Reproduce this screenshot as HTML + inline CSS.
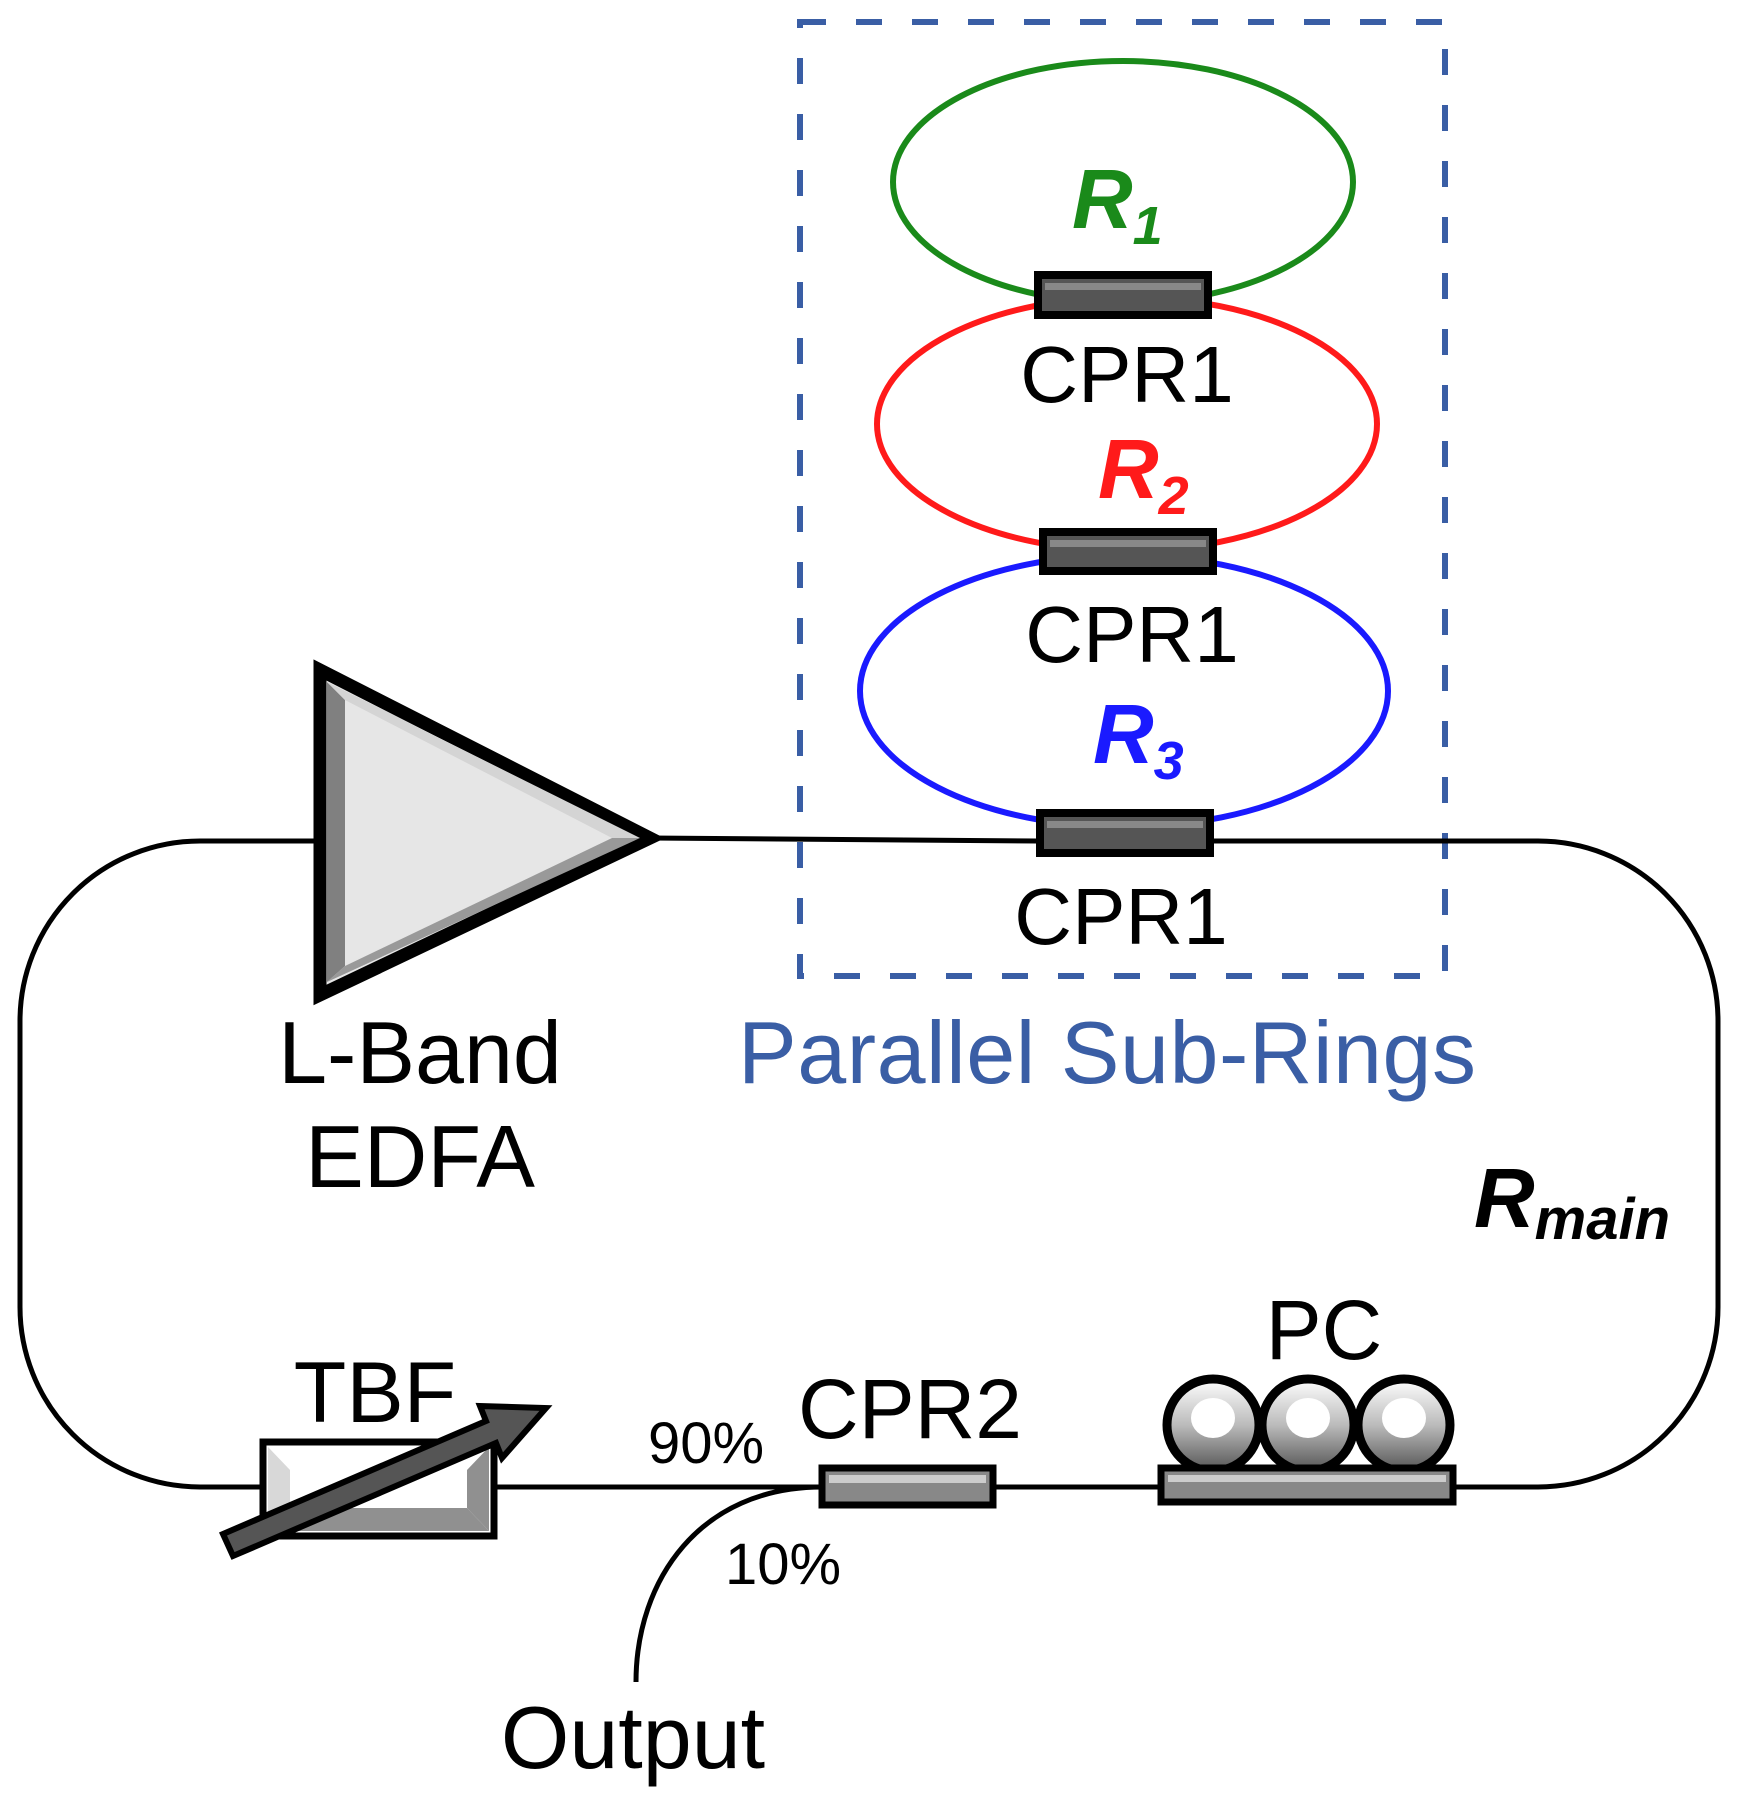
<!DOCTYPE html>
<html><head><meta charset="utf-8"><style>html,body{margin:0;padding:0;background:#fff}svg{display:block}</style></head>
<body>
<svg width="1740" height="1809" viewBox="0 0 1740 1809" xmlns="http://www.w3.org/2000/svg" font-family="Liberation Sans, Arial, sans-serif">
<defs>
<linearGradient id="ball" x1="0" y1="0" x2="0" y2="1"><stop offset="0" stop-color="#fff"/><stop offset="0.5" stop-color="#bbb"/><stop offset="1" stop-color="#555"/></linearGradient>
</defs>
<rect x="800" y="22" width="645" height="954" fill="none" stroke="#3a5ea5" stroke-width="6" stroke-dasharray="26 30"/>
<path d="M320,841 L200,841 A180,180 0 0 0 20,1021 L20,1307 A180,180 0 0 0 200,1487 L1538,1487 A180,180 0 0 0 1718,1307 L1718,1021 A180,180 0 0 0 1538,841 L1210,841 M650,838 L1037,841" fill="none" stroke="#000" stroke-width="5"/>
<ellipse cx="1123" cy="182" rx="230" ry="121" fill="none" stroke="#1a8a1a" stroke-width="6"/>
<ellipse cx="1127" cy="424" rx="250" ry="127" fill="none" stroke="#ff1a1a" stroke-width="6"/>
<ellipse cx="1124" cy="691" rx="264" ry="136" fill="none" stroke="#1a1aff" stroke-width="6"/>
<g stroke="#000" stroke-width="8">
<rect x="1038" y="275" width="170" height="40" fill="#555"/>
<rect x="1043" y="532" width="170" height="39" fill="#555"/>
<rect x="1040" y="813" width="170" height="40" fill="#555"/>
</g>
<g fill="#888"><rect x="1045" y="283" width="156" height="7"/><rect x="1050" y="540" width="156" height="7"/><rect x="1047" y="821" width="156" height="7"/></g>
<g font-size="80" text-anchor="middle" fill="#000">
<text x="1127" y="402">CPR1</text>
<text x="1132" y="662">CPR1</text>
<text x="1121" y="944">CPR1</text>
</g>
<g font-size="84" font-weight="bold" font-style="italic">
<text x="1072" y="228" fill="#1a8a1a">R<tspan font-size="54" dy="16">1</tspan></text>
<text x="1098" y="498" fill="#ff1a1a">R<tspan font-size="54" dy="16">2</tspan></text>
<text x="1093" y="763" fill="#1a1aff">R<tspan font-size="54" dy="16">3</tspan></text>
<text x="1474" y="1227" fill="#000">R<tspan font-size="58" dy="12">main</tspan></text>
</g>
<polygon points="320,670 320,995 650,838" fill="#e6e6e6" stroke="#000" stroke-width="13" stroke-linejoin="miter"/>
<polygon points="327,682 345,700 345,966 327,982" fill="#808080"/>
<polygon points="345,966 612,838 640,838 327,982" fill="#999"/>
<polygon points="345,700 612,838 640,838 327,682" fill="#d4d4d4"/>
<text x="420" y="1083" font-size="88" text-anchor="middle">L-Band</text>
<text x="420" y="1187" font-size="88" text-anchor="middle">EDFA</text>
<text x="1107" y="1083" font-size="88" text-anchor="middle" fill="#3a5ea5" textLength="738">Parallel Sub-Rings</text>
<rect x="263" y="1442" width="231" height="94" fill="#fff" stroke="#000" stroke-width="7"/>
<polygon points="268,1447 290,1470 290,1508 268,1531" fill="#d8d8d8"/>
<polygon points="268,1531 290,1508 467,1508 489,1531" fill="#909090"/>
<polygon points="489,1447 467,1470 467,1508 489,1531" fill="#909090"/>
<polygon points="223,1534 486,1421 480,1406 546,1408 502,1458 496,1443 233,1556" fill="#555" stroke="#000" stroke-width="6" stroke-linejoin="miter"/>
<text x="375" y="1422" font-size="86" text-anchor="middle">TBF</text>
<path d="M822,1487 C700,1487 636,1580 636,1682" fill="none" stroke="#000" stroke-width="5"/>
<rect x="822" y="1468" width="171" height="37" fill="#888" stroke="#000" stroke-width="7"/>
<rect x="829" y="1475" width="157" height="8" fill="#ccc"/>
<text x="910" y="1438" font-size="84" text-anchor="middle">CPR2</text>
<text x="706" y="1463" font-size="58" text-anchor="middle">90%</text>
<text x="783" y="1584" font-size="58" text-anchor="middle">10%</text>
<text x="633" y="1768" font-size="88" text-anchor="middle">Output</text>
<g stroke="#000" stroke-width="9">
<circle cx="1213" cy="1425" r="46" fill="url(#ball)"/>
<circle cx="1308" cy="1425" r="46" fill="url(#ball)"/>
<circle cx="1404" cy="1425" r="46" fill="url(#ball)"/>
</g>
<g fill="#fff"><ellipse cx="1213" cy="1418" rx="22" ry="20"/><ellipse cx="1308" cy="1418" rx="22" ry="20"/><ellipse cx="1404" cy="1418" rx="22" ry="20"/></g>
<rect x="1161" y="1468" width="292" height="34" fill="#888" stroke="#000" stroke-width="7"/>
<rect x="1168" y="1475" width="278" height="7" fill="#ccc"/>
<text x="1324" y="1359" font-size="84" text-anchor="middle">PC</text>
</svg>
</body></html>
